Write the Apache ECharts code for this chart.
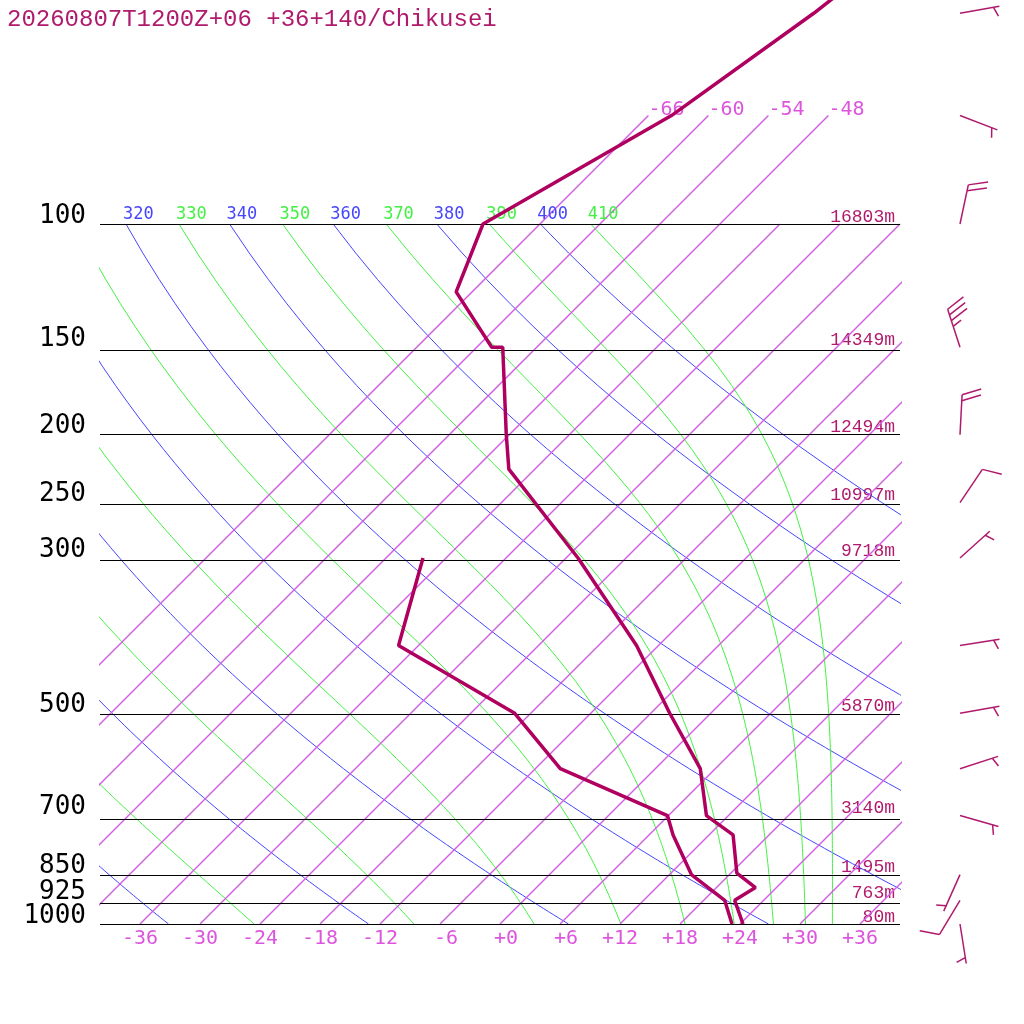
<!DOCTYPE html>
<html>
<head>
<meta charset="utf-8">
<title>Skew-T Chikusei</title>
<script src="https://cdn.jsdelivr.net/npm/echarts@6/dist/echarts.min.js"></script>
<style>
html, body { margin: 0; padding: 0; background: #fff; }
#chart { width: 1024px; height: 1024px; }
</style>
</head>
<body>
<div id="chart"></div>
<script>
const TITLE = '20260807T1200Z+06 +36+140/Chikusei'

// temperature profile (hPa / degC)
const tempPres = [30, 50, 70, 100, 125, 150, 150, 200, 224, 300, 400, 500, 600, 700, 746, 846, 887, 925, 1000]
const tempVals = [-55.3, -59.7, -63.7, -71.7, -67.6, -58.5, -57.4, -48.3, -44.6, -28.8, -14.2, -4.1, 4.5, 9.8, 14.4, 18.6, 21.9, 21.1, 24.3]

// dew point profile
const dewPres = [300, 400, 500, 600, 700, 746, 850, 925, 1000]
const dewVals = [-44.3, -38.0, -19.6, -9.5, 5.9, 8.4, 14.2, 20.1, 23.2]

// isobars + geopotential height
const levels = [100, 150, 200, 250, 300, 500, 700, 850, 925, 1000]
const heights = ['16803m', '14349m', '12494m', '10997m', '9718m', '5870m', '3140m', '1495m', '763m', '80m']

// wind: hPa, direction deg, speed kt
const windPres = [50, 70, 100, 150, 200, 250, 300, 400, 500, 600, 700, 850, 925, 1000]
const windDir = [80, 111, 12, 342, 3, 34, 48, 81, 80, 72, 106, 204, 211, 171]
const windSpd = [5, 5, 20, 35, 20, 10, 5, 5, 5, 5, 5, 5, 10, 5]

// background lines
const tempTicks = [-36, -30, -24, -18, -12, -6, 0, 6, 12, 18, 24, 30, 36]
const isotherms = [-66, -60, -54, -48, -42, -36, -30, -24, -18, -12, -6, 0, 6, 12, 18, 24, 30, 36]
const isothermLabels = [-66, -60, -54, -48]
const dryTheta = [240, 260, 280, 300, 320, 340, 360, 380, 400]
const moistThetaE = [250, 270, 290, 310, 330, 350, 370, 390, 410]

const SKEW = 70          // degC per pressure decade -> 45 deg isotherms
const P_TOP = 1.68       // log10 of pressure at top of plot
const COL_LINE = '#b0005f'
const COL_TEXT = '#b01a6c'
const COL_ISO = '#d35ee3'
const COL_ISO_TXT = '#dd55dd'
const COL_DRY = '#4646ff'
const COL_MOIST = '#44f044'

function sx(t, p) { return t + SKEW * Math.log10(1000 / p) }
function sy(p) { return Math.log10(p) }

function satThetaE(tk, p) {
    var tc = tk - 273.15
    var es = 6.112 * Math.exp(17.67 * tc / (tc + 243.5))
    var r = 622 * es / (p - es)
    return tk * Math.pow(1000 / p, 0.2854 * (1 - 0.00028 * r)) *
        Math.exp((3.376 / tk - 0.00254) * r * (1 + 0.00081 * r))
}

function moistT(te, p) {
    var lo = 150, hi = 340
    for (var i = 0; i < 50; i++) {
        var mid = (lo + hi) / 2
        if (satThetaE(mid, p) > te) hi = mid; else lo = mid
    }
    return (lo + hi) / 2 - 273.15
}

var pGrid = []
for (var p = 1000; p >= 100; p -= 10) pGrid.push(p)

var series = []
var labelData = []

function bgLine(data, color, z, w) {
    series.push({
        type: 'line', data: data, showSymbol: false, symbol: 'none', silent: true,
        color: color, lineStyle: { color: color, width: w || 1 }, z: z
    })
}

dryTheta.forEach(function (th) {
    bgLine(pGrid.map(function (p) {
        return [sx(th * Math.pow(p / 1000, 0.2857) - 273.15, p), sy(p)]
    }), COL_DRY, 1)
    var x100 = sx(th * Math.pow(0.1, 0.2857) - 273.15, 100)
    if (x100 > -40 && x100 < 40) labelData.push({ value: [x100, 2], name: String(th), label: { color: COL_DRY } })
})

moistThetaE.forEach(function (te) {
    bgLine(pGrid.map(function (p) { return [sx(moistT(te, p), p), sy(p)] }), COL_MOIST, 1)
    var x100 = sx(moistT(te, 100), 100)
    if (x100 > -40 && x100 < 40) labelData.push({ value: [x100, 2], name: String(te), label: { color: COL_MOIST } })
})

// isotherms (straight lines in the skewed frame)
isotherms.forEach(function (t) {
    var top = isothermLabels.indexOf(t) >= 0 ? 70 : 100
    bgLine([[sx(t, 1000), sy(1000)], [sx(t, top), sy(top)]], COL_ISO, 2, 1.5)
})

// isobars
series.push({
    type: 'line', data: [], silent: true, z: 3,
    markLine: {
        silent: true, symbol: 'none', animation: false,
        label: { show: false },
        lineStyle: { color: '#000', width: 1, type: 'solid' },
        data: levels.map(function (p) { return { yAxis: sy(p) } })
    }
})

// pressure labels at the left edge
series.push({
    type: 'scatter', symbolSize: 0, silent: true, z: 3,
    itemStyle: { opacity: 1 },
    data: levels.map(function (p) { return { value: [-40, sy(p)], name: String(p) } }),
    label: {
        show: true, formatter: '{b}', position: 'left', distance: 14, offset: [0, -8],
        fontFamily: 'DejaVu Sans Mono', fontSize: 26, color: '#000', opacity: 1
    }
})

// theta labels along 100 hPa
series.push({
    type: 'scatter', symbolSize: 0, silent: true, z: 3, data: labelData,
    itemStyle: { opacity: 1 },
    label: {
        show: true, formatter: '{b}', position: [-3, -18], opacity: 1,
        fontFamily: 'DejaVu Sans Mono', fontSize: 17
    }
})

// isotherm labels at 70 hPa
series.push({
    type: 'scatter', symbolSize: 0, silent: true, z: 3,
    itemStyle: { opacity: 1 },
    data: isothermLabels.map(function (t) { return { value: [sx(t, 70), sy(70)], name: String(t) } }),
    label: {
        show: true, formatter: '{b}', position: [0, -16], color: COL_ISO_TXT, opacity: 1,
        fontFamily: 'DejaVu Sans Mono', fontSize: 20
    }
})

// temperature and dew point
series.push({
    name: 'T', type: 'line', symbol: 'none', z: 5,
    lineStyle: { color: COL_LINE, width: 3.5 },
    data: tempPres.map(function (p, i) { return [sx(tempVals[i], p), sy(p)] })
})
series.push({
    name: 'Td', type: 'line', symbol: 'none', z: 5,
    lineStyle: { color: COL_LINE, width: 3.5 },
    data: dewPres.map(function (p, i) { return [sx(dewVals[i], p), sy(p)] })
})

// wind barbs
function renderBarb(params, api) {
    var y = api.coord([0, api.value(1)])[1]
    var bx = params.coordSys.x + params.coordSys.width + 60
    var d = api.value(2) * Math.PI / 180
    var spd = api.value(3)
    var ux = Math.sin(d), uy = -Math.cos(d)
    var L = 40, tx = bx + ux * L, ty = y + uy * L
    var a = 70 * Math.PI / 180
    var vx = ux * Math.cos(a) - uy * Math.sin(a)
    var vy = ux * Math.sin(a) + uy * Math.cos(a)
    var style = { stroke: COL_TEXT, lineWidth: 1.5, fill: null }
    var kids = [{ type: 'line', shape: { x1: bx, y1: y, x2: tx, y2: ty }, style: style }]
    var full = Math.floor(spd / 10)
    var half = (spd % 10) >= 5
    var pos = 0
    if (full === 0 && half) pos = 1
    function tick(len) {
        var px = tx - ux * pos * 6, py = ty - uy * pos * 6
        kids.push({ type: 'line', shape: { x1: px, y1: py, x2: px + vx * len, y2: py + vy * len }, style: style })
        pos++
    }
    for (var i = 0; i < full; i++) tick(20)
    if (half) tick(10)
    return { type: 'group', children: kids }
}

series.push({
    type: 'custom', coordinateSystem: 'cartesian2d', clip: false, silent: true, z: 6,
    data: windPres.map(function (p, i) { return [0, sy(p), windDir[i], windSpd[i]] }),
    encode: { x: 0, y: 1 },
    renderItem: renderBarb
})

var chart = echarts.init(document.getElementById('chart'), null, { renderer: 'canvas' })
chart.setOption({
    backgroundColor: '#fff',
    animation: false,
    title: {
        text: TITLE, left: 2, top: 3,
        textStyle: { fontFamily: 'Liberation Mono', fontSize: 24, fontWeight: 'normal', color: COL_TEXT }
    },
    grid: { left: 100, right: 124, top: 0, bottom: 100 },
    xAxis: {
        type: 'value', min: -40, max: 40,
        axisLine: { show: false }, axisTick: { show: false }, splitLine: { show: false },
        axisLabel: {
            customValues: tempTicks, margin: 5,
            fontFamily: 'DejaVu Sans Mono', fontSize: 20, color: COL_ISO_TXT,
            formatter: function (v) {
                var s = (v < 0 ? '-' : '+') + Math.abs(Math.round(v))
                return s.length < 3 ? ' ' + s : s
            }
        }
    },
    yAxis: [{
        type: 'value', min: P_TOP, max: 3, inverse: true,
        axisLine: { show: false }, axisTick: { show: false }, splitLine: { show: false },
        axisLabel: { show: false }
    }, {
        type: 'value', min: P_TOP, max: 3, inverse: true, position: 'right',
        axisLine: { show: false }, axisTick: { show: false }, splitLine: { show: false },
        axisLabel: {
            customValues: levels.map(sy), inside: true, margin: 5,
            showMinLabel: true, showMaxLabel: true, hideOverlap: false,
            fontFamily: 'Liberation Mono', fontSize: 18, color: COL_TEXT,
            verticalAlign: 'bottom', lineHeight: 14,
            formatter: function (v) { return heights[levels.indexOf(Math.round(Math.pow(10, v)))] }
        }
    }],
    series: series
})
</script>
</body>
</html>
